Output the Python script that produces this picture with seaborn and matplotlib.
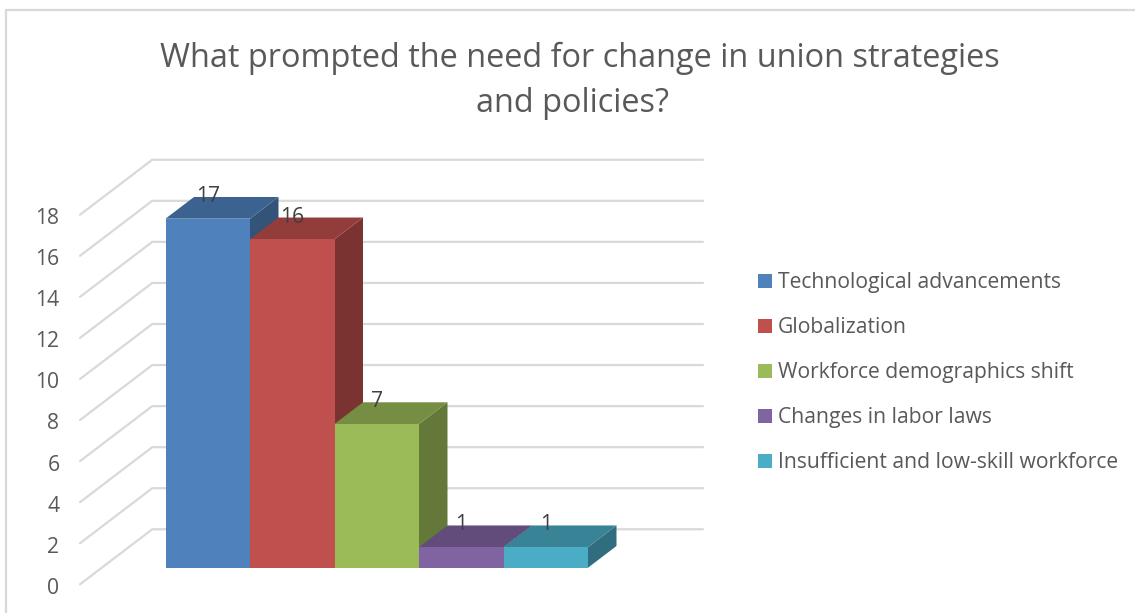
import matplotlib
matplotlib.use("Agg")
import matplotlib.pyplot as plt
from matplotlib.patches import Polygon
from matplotlib.lines import Line2D
import numpy as np
import pandas as pd
import seaborn as sns

title_lines = ["What prompted the need for change in union strategies", "and policies?"]
categories = ["Technological advancements", "Globalization", "Workforce demographics shift",
              "Changes in labor laws", "Insufficient and low-skill workforce"]
counts = [17, 16, 7, 1, 1]
tick_values = [0, 2, 4, 6, 8, 10, 12, 14, 16, 18]
front_colors = ["#4F81BD", "#C0504D", "#9BBB59", "#8064A2", "#4BACC6"]

W, H = 1135, 613
BAR_PX = 84.5          # width of one bar front
UNIT_PX = 20.53        # height of one value unit
DEPTH_DX = 28.5 / BAR_PX     # depth vector of one bar, in data units
DEPTH_DY = 21.7 / UNIT_PX
WALL_BACK = 1.77       # depth of the back wall, in bar depths
WALL_FRONT = -0.765    # depth of the front edge of the side wall
GRID = "#D9D9D9"
TEXT = "#595959"

sns.set_theme(style="white")
plt.rcParams["font.family"] = ["Open Sans", "DejaVu Sans"]

fig = plt.figure(figsize=(W / 100, H / 100), dpi=100, facecolor="white")

# Chart frame: only its top and left edges fall inside the canvas
fig.add_artist(Line2D([5.5 / W, 5.5 / W, 1], [0, 1 - 9.5 / H, 1 - 9.5 / H],
                      transform=fig.transFigure, color=GRID, linewidth=1.6,
                      solid_joinstyle="miter"))

# Axes span the plot floor: left end of side wall to right end of back wall
left_px, right_px, top_px, bottom_px = 80.0, 703.0, 159.7, 584.3
ax = fig.add_axes([left_px / W, 1 - bottom_px / H, (right_px - left_px) / W, (bottom_px - top_px) / H])

df = pd.DataFrame({"category": categories, "count": counts})
sns.barplot(data=df, x="category", y="count", hue="category", palette=front_colors,
            width=1.0, saturation=1, dodge=False, legend=False, ax=ax, zorder=3, linewidth=0)

floor_px = 567.7
first_bar_px = 165.5
xlim = (-0.5 - (first_bar_px - left_px) / BAR_PX, -0.5 + (right_px - first_bar_px) / BAR_PX)
ylim = ((floor_px - bottom_px) / UNIT_PX, (floor_px - top_px) / UNIT_PX)
x0, x1 = xlim
base = ylim[0]
wall_offset = WALL_BACK * DEPTH_DY - WALL_FRONT * DEPTH_DY

# Gridlines: along the side wall, then across the back wall
for v in tick_values:
    yf = base + v
    yb = yf + wall_offset
    xb = x0 + (WALL_BACK - WALL_FRONT) * DEPTH_DX
    ax.plot([x0, xb, x1], [yf, yb, yb], color=GRID, lw=1.6, zorder=1,
            clip_on=False, solid_joinstyle="miter")

# Side and top faces of each bar, darkened from its front colour
for i, (v, c) in enumerate(zip(counts, front_colors)):
    rgb = np.array(matplotlib.colors.to_rgb(c))
    l, r = i - 0.5, i + 0.5
    ax.add_patch(Polygon([(r, 0), (r + DEPTH_DX, DEPTH_DY), (r + DEPTH_DX, v + DEPTH_DY), (r, v)],
                         closed=True, fc=rgb * 0.64, ec="none", zorder=2, clip_on=False))
    ax.add_patch(Polygon([(l, v), (l + DEPTH_DX, v + DEPTH_DY), (r + DEPTH_DX, v + DEPTH_DY), (r, v)],
                         closed=True, fc=rgb * 0.76, ec="none", zorder=2.5, clip_on=False))
    ax.text(i, v + 1.08, str(v), ha="center", va="center", fontsize=15.2, color="#404040", zorder=5)

ax.set_xticks([])
ax.set_xlabel("")
ax.set_ylabel("")
# Tick labels sit slightly below the front end of their gridline
ax.set_yticks([base + v - 0.07 for v in tick_values])
ax.set_yticklabels([str(v) for v in tick_values], fontsize=15.2, color=TEXT)
ax.tick_params(axis="y", length=0, pad=14.8)
ax.set_xlim(*xlim)
ax.set_ylim(ylim[0] - 0.07, ylim[1])
ax.set_position([left_px / W, 1 - (bottom_px + 0.07 * UNIT_PX) / H, (right_px - left_px) / W,
                 (bottom_px + 0.07 * UNIT_PX - top_px) / H])
sns.despine(ax=ax, left=True, bottom=True, top=True, right=True)
ax.patch.set_alpha(0)

handles = [Line2D([], [], marker="s", ls="", color=c, markersize=10, markeredgewidth=0) for c in front_colors]
fig.legend(handles, categories, loc="upper left", bbox_to_anchor=(755.5 / W, 1 - 272 / H),
           bbox_transform=fig.transFigure, frameon=False, fontsize=15.2, labelcolor=TEXT,
           labelspacing=1.14, handlelength=0.9, handletextpad=0.16, borderpad=0, borderaxespad=0)

fig.text(580 / W, 1 - 58.5 / H, title_lines[0], ha="center", va="center", fontsize=23.4, color=TEXT)
fig.text(573 / W, 1 - 104 / H, title_lines[1], ha="center", va="center", fontsize=23.4, color=TEXT)

fig.savefig("out.png", dpi=100)
